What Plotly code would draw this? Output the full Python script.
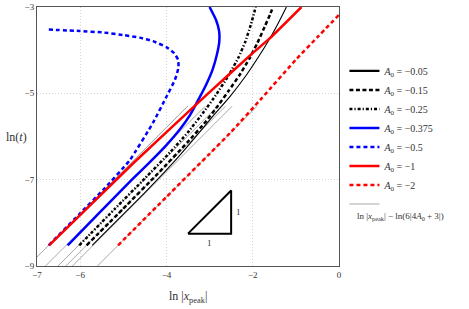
import math
import plotly.graph_objects as go

# ---------------- data ----------------
A0_values = [-0.05, -0.15, -0.25, -0.375, -0.5, -1, -2]

# x = ln|x_peak| , y = ln(t)
x_m005 = [-5.72, -4.5, -3.8, -3.3, -2.9, -2.533, -2.15, -1.85, -1.62, -1.40, -1.219]
y_m005 = [-8.52, -7.3, -6.56, -5.98, -5.5, -5.08, -4.58, -4.13, -3.76, -3.36, -3.0]

x_m015 = [-5.85, -5.0, -4.2, -3.5, -3.1, -2.8, -2.55, -2.3, -2.08, -1.89, -1.72, -1.6, -1.53]
y_m015 = [-8.52, -7.67, -6.86, -6.12, -5.67, -5.28, -4.93, -4.57, -4.2, -3.83, -3.45, -3.18, -3.0]

x_m025 = [-6.02, -5.2, -4.5, -3.9, -3.5, -3.15, -2.84, -2.55, -2.33, -2.17, -2.04, -1.93]
y_m025 = [-8.52, -7.68, -6.97, -6.35, -5.9, -5.45, -5.02, -4.57, -4.17, -3.8, -3.4, -3.0]

x_m0375 = [-6.29, -5.5, -4.8, -4.39, -4.0, -3.7, -3.45, -3.25, -3.08, -2.93, -2.83, -2.775, -2.78, -2.85, -3.0]
y_m0375 = [-8.52, -7.71, -7.0, -6.6, -6.2, -5.85, -5.5, -5.13, -4.8, -4.45, -4.1, -3.8, -3.55, -3.3, -3.0]

x_m05 = [-6.73, -6.0, -5.47, -4.85, -4.31, -4.0, -3.8, -3.72, -3.73, -3.82, -4.0, -4.31, -4.62, -4.97, -5.47, -6.01, -6.78]
y_m05 = [-8.52, -7.78, -7.24, -6.55, -5.68, -5.08, -4.68, -4.4, -4.22, -4.07, -3.93, -3.79, -3.71, -3.655, -3.59, -3.556, -3.52]

x_m1 = [-6.72, -4.77, -3.05, -2.06, -1.62, -0.87]
y_m1 = [-8.52, -6.62, -5.02, -4.12, -3.74, -3.0]

x_m2 = [-5.12, -4.0, -3.0, -2.533, -1.78, -1.0, -0.5, 0.0]
y_m2 = [-8.52, -7.4, -6.4, -5.93, -5.1, -4.22, -3.7, -3.18]

# asymptote ln t = ln|x_peak| - ln(6|4A0+3|), drawn for ln t in this range
lnt_ref = [-10.0, -5.3]

# slope-1 triangle
tri_x = [-3.5, -2.5, -2.5, -3.5]
tri_y = [-8.25, -8.25, -7.25, -8.25]

x_ticks = [-7, -6, -4, -2, 0]
y_ticks = [-3, -5, -7, -9]

# ---------------- figure ----------------
FONT = "Liberation Serif"
TXT = "#333"
fig = go.Figure()

# gray reference lines (one legend entry)
gx, gy = [], []
for a in A0_values:
    c = math.log(6 * abs(4 * a + 3))
    for lt in lnt_ref:
        gx.append(lt + c)
        gy.append(lt)
    gx.append(None)
    gy.append(None)
fig.add_trace(go.Scatter(x=gx, y=gy, mode="lines", line=dict(color="#a8a8a8", width=1),
                         name=" ", legendrank=900, showlegend=True))

def lab(v):
    return "<i>A</i><sub>0</sub> = −" + str(abs(v))

curves = [
    (x_m005, y_m005, "black", "solid", -0.05),
    (x_m015, y_m015, "black", "4px,2.5px", -0.15),
    (x_m025, y_m025, "black", "3px,2px,1.2px,2px", -0.25),
    (x_m0375, y_m0375, "#0000ff", "solid", -0.375),
    (x_m05, y_m05, "#0000ff", "4px,3px", -0.5),
    (x_m1, y_m1, "#ff0000", "solid", -1),
    (x_m2, y_m2, "#ff0000", "4px,3px", -2),
]
for i, (xs, ys, col, dash, a) in enumerate(curves):
    thin = (a == -0.05)
    fig.add_trace(go.Scatter(x=xs, y=ys, mode="lines",
                             line=dict(color=col, width=1.1 if thin else 2.5, dash=dash,
                                       shape="spline", smoothing=0.4),
                             name=lab(a), legendrank=100 + i, showlegend=not thin))
    if thin:
        fig.add_trace(go.Scatter(x=[None], y=[None], mode="lines",
                                 line=dict(color=col, width=2.2), name=lab(a), legendrank=100 + i))

fig.add_trace(go.Scatter(x=tri_x, y=tri_y, mode="lines", line=dict(color="black", width=2),
                         showlegend=False, hoverinfo="skip"))

fig.add_annotation(x=(tri_x[0] + tri_x[1]) / 2, y=tri_y[0], text="1", showarrow=False,
                   yshift=-9, font=dict(family=FONT, size=9, color=TXT))
fig.add_annotation(x=tri_x[1], y=(tri_y[1] + tri_y[2]) / 2, text="1", showarrow=False,
                   xshift=7, font=dict(family=FONT, size=9, color=TXT))

# axis titles
fig.add_annotation(xref="paper", yref="paper", x=-0.109, y=0.5, xanchor="left", yanchor="middle",
                   text="ln(<i>t</i>)", showarrow=False, font=dict(family=FONT, size=12, color=TXT))
fig.add_annotation(xref="paper", yref="paper", x=0.5, y=-0.12, xanchor="center", yanchor="middle",
                   text="ln |<i>x</i><sub>peak</sub>|", showarrow=False,
                   font=dict(family=FONT, size=12, color=TXT))

# text of gray legend entry (placed under its line sample)
fig.add_annotation(xref="paper", yref="paper", x=1.052, y=0.19, xanchor="left", yanchor="middle",
                   text="ln |<i>x</i><sub>peak</sub>| − ln(6|4<i>A</i><sub>0</sub> + 3|)", showarrow=False,
                   font=dict(family=FONT, size=9, color=TXT))

axis_common = dict(showline=True, linecolor="#555", linewidth=1, mirror=True, zeroline=False,
                   showgrid=True, gridcolor="#d4d4d4", griddash="1px,2px", gridwidth=1,
                   ticks="", automargin=False, tickfont=dict(family=FONT, size=9, color=TXT))
fig.update_xaxes(range=[-7, 0], tickvals=x_ticks, ticktext=["−7", "−6", "−4", "−2", "0"], **axis_common)
fig.update_yaxes(range=[-9, -3], tickvals=y_ticks, ticktext=["−3", "−5", "−7", "−9"], **axis_common)

fig.update_layout(
    width=469, height=309,
    margin=dict(l=37, r=130, t=7, b=43, autoexpand=False),
    paper_bgcolor="white", plot_bgcolor="white",
    font=dict(family=FONT, color=TXT),
    legend=dict(x=1.018, y=0.809, xanchor="left", yanchor="top", bgcolor="rgba(0,0,0,0)",
                font=dict(family=FONT, size=10, color=TXT), itemwidth=30, tracegroupgap=0),
)

# remove the default 8px page margin so the 469x309 figure fills the window exactly
fig.write_html("out.html", config={"displayModeBar": False},
               post_script="document.body.style.margin='0';")
